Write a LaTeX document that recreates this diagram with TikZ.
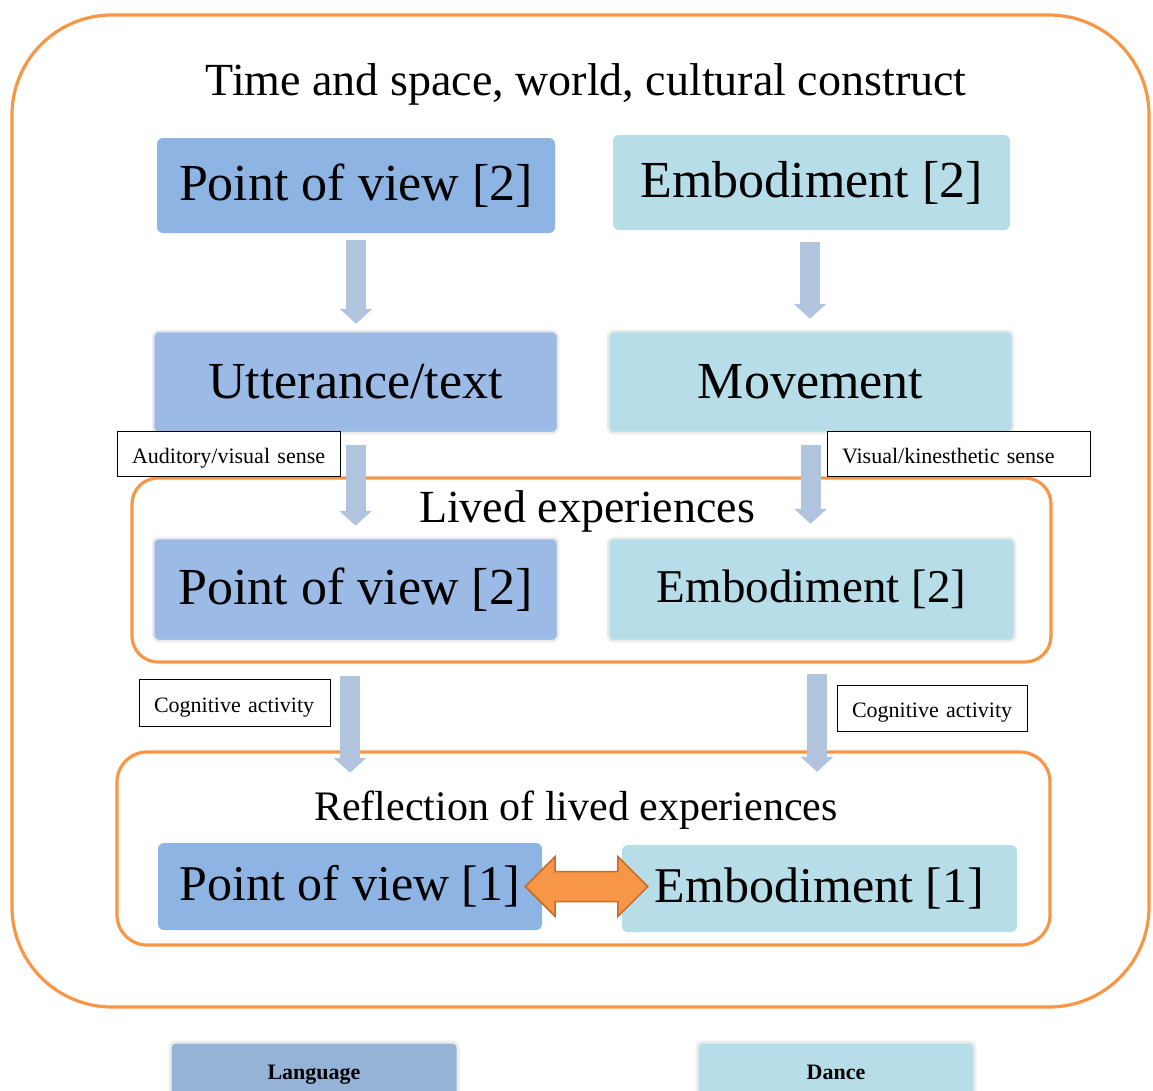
\documentclass[tikz,border=0pt]{standalone}
\usepackage{fontspec}
\setmainfont{Liberation Serif}
\usetikzlibrary{arrows.meta,calc}

\definecolor{langblue}{RGB}{142,180,227}
\definecolor{langlight}{RGB}{155,187,230}
\definecolor{legblue}{RGB}{149,179,215}
\definecolor{danceblue}{RGB}{183,222,232}
\definecolor{arrowblue}{RGB}{176,196,222}
\definecolor{frameorange}{RGB}{247,150,70}
\definecolor{darkorange}{RGB}{196,108,40}

\newcommand{\fs}[1]{\fontsize{#1}{#1}\selectfont}

\begin{document}
\begin{tikzpicture}[x=1pt,y=-1pt,
  box/.style={rounded corners=6pt,inner sep=0pt,text=black},
  langbox/.style={box,fill=langblue},
  danbox/.style={box,fill=danceblue},
  glowbox/.style={draw=black!8,line width=2.5pt},
  sensebox/.style={draw=black,line width=0.9pt,fill=white,inner ysep=0pt,inner xsep=15pt,
    align=left,text height=19pt,text depth=0pt,font=\fs{22}},
  frame/.style={draw=frameorange,line width=3.2pt},
  downarrow/.style={draw=arrowblue,line width=20pt,-{Triangle[width=32pt,length=15pt]}}]
\useasboundingbox (0,0) rectangle (1153,1090);
%Outer frame, with the two inner orange frames
% for the lived experiences and their reflection
\draw[frame,rounded corners=100pt] (12,15) rectangle (1149,1007);
\draw[frame,rounded corners=26pt] (132,478) rectangle (1051,662);
\draw[frame,rounded corners=30pt] (117,752) rectangle (1050,945);

\node[anchor=base](title) at (586,95) {\fs{46}Time and space, world, cultural construct};

% first row
\node[langbox,minimum width=398pt,minimum height=95pt](pvtop) at (356,185.5) {\fs{52}Point of view [2]};
\node[danbox,minimum width=397pt,minimum height=95pt](embtop) at (811.5,182.5) {\fs{52}Embodiment [2]};

% second row
\node[langbox,glowbox,fill=langlight,minimum width=405pt,minimum height=102pt](utt) at (355.5,382) {\fs{52}Utterance/text};
\node[danbox,glowbox,minimum width=405pt,minimum height=102pt](mov) at (810.5,382) {\fs{52}Movement};

% lived experiences
\node[anchor=base](lived) at (587,522) {\fs{46}Lived experiences};
\node[langbox,glowbox,fill=langlight,minimum width=405pt,minimum height=103pt](pvmid) at (355.5,589.5) {\fs{52}Point of view [2]};
\node[danbox,glowbox,minimum width=407pt,minimum height=103pt](embmid) at (811.5,589.5) {\fs{47}Embodiment [2]};

% reflection
\node[anchor=base](refl) at (576,820) {\fs{42}Reflection of lived experiences};
\node[langbox,minimum width=384pt,minimum height=87pt](pvone) at (350,886.5) {\fs{50}Point of view [1]};
\node[danbox,minimum width=395pt,minimum height=87pt](embone) at (819.5,888.5) {\fs{50}Embodiment [1]};

% sense labels
\node[sensebox,text width=193pt,minimum height=45pt](audio) at (228.5,453.5) {\mbox{Auditory/visual sense}};
\node[sensebox,text width=233pt,minimum height=45pt](kine) at (958.5,453.5) {\mbox{Visual/kinesthetic sense}};
\node[sensebox,text width=161pt,minimum height=47pt](cogl) at (234.5,702.5) {\mbox{Cognitive activity}};
\node[sensebox,text width=160pt,minimum height=46pt](cogr) at (932,708) {\mbox{Cognitive activity}};

% block arrows
\draw[downarrow,shorten <=7pt,shorten >=6pt] (pvtop.south) -- (pvtop.south |- utt.north);
\draw[downarrow,shorten <=12pt,shorten >=11pt] ([xshift=-1.5pt]embtop.south) -- ([xshift=-1.5pt]embtop.south |- mov.north);
\draw[downarrow,shorten <=11pt,shorten >=11pt] (utt.south) -- (utt.south |- pvmid.north);
\draw[downarrow,shorten <=11pt,shorten >=13pt] (mov.south) -- (mov.south |- embmid.north);
\draw[downarrow,shorten <=34pt,shorten >=70pt] (pvone.north |- pvmid.south) -- (pvone.north);
\draw[downarrow,shorten <=32pt,shorten >=73pt] ([xshift=-2.5pt]embone.north |- embmid.south) -- ([xshift=-2.5pt]embone.north);

% two-way arrow between point of view and embodiment
\coordinate(dl) at ([xshift=-17pt]pvone.east);
\coordinate(dr) at ([xshift=26pt]embone.west |- pvone.east);
\draw[fill=frameorange,draw=darkorange,line width=1.5pt,line join=miter]
  (dl) -- ++(30,-30) -- ++(0,15) -- ($(dr)+(-30,-15)$) -- ++(0,-15) -- (dr)
  -- ++(-30,30) -- ++(0,-15) -- ($(dl)+(30,15)$) -- ++(0,15) -- cycle;

% legend
\node[box,draw=black!7,line width=3pt,fill=legblue,minimum width=288pt,minimum height=58pt,
  text height=16pt,text depth=0pt,font=\fs{22}\bfseries](lang) at (314,1071) {Language};
\node[box,draw=black!7,line width=3pt,fill=danceblue,minimum width=278pt,minimum height=58pt,
  text height=16pt,text depth=0pt,font=\fs{22}\bfseries](dance) at (836,1071) {Dance};
\end{tikzpicture}
\end{document}
